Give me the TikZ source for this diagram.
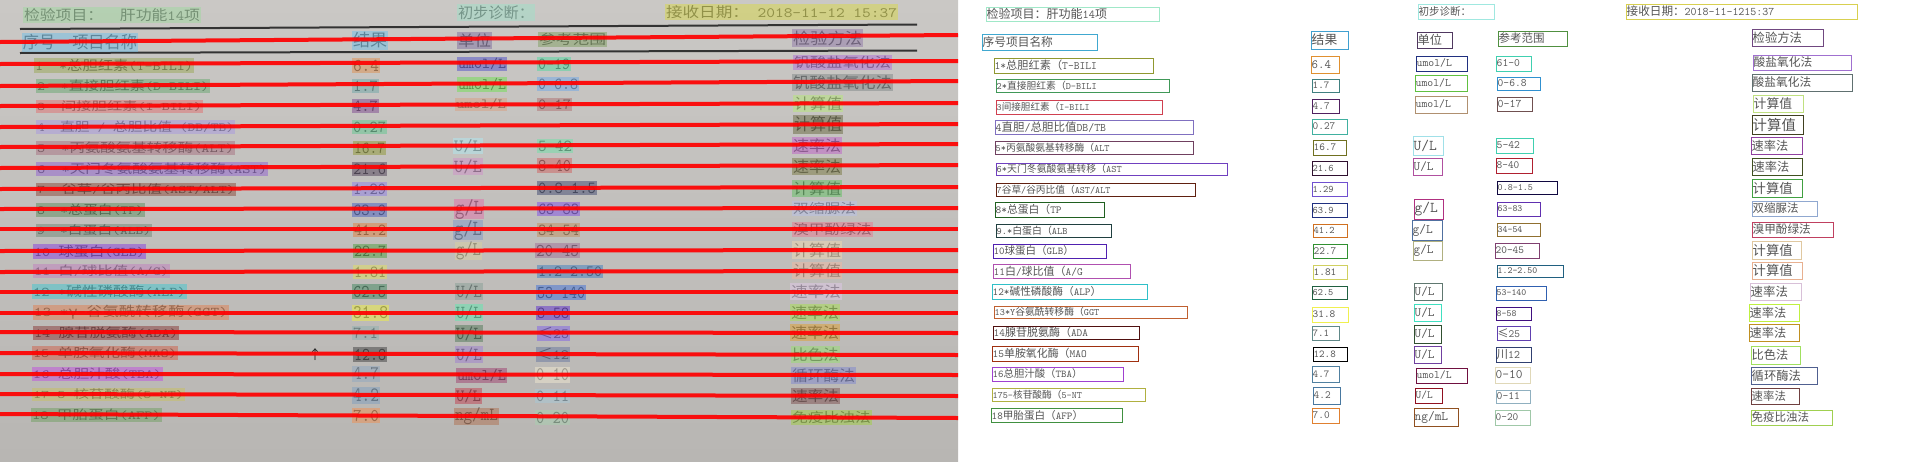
\documentclass[tikz,border=0pt]{standalone}
\usepackage{fontspec}
\usepackage{graphicx}
\setmainfont{Noto Sans CJK SC}
\newcommand\ltn[1]{{\ttfamily #1}}
\newlength\hlw
\newlength\hlh
\definecolor{ltxt}{HTML}{4A4A4A}
\definecolor{rtxt}{HTML}{555555}
\definecolor{bgtop}{HTML}{CAC8C5}
\definecolor{bgbot}{HTML}{B8B6B3}
\tikzset{
  lt/.style={inner sep=0pt, text=ltxt},
  rt/.style={inner sep=0pt, text=rtxt, anchor=west},
  redline/.style={draw=red, line width=4pt, opacity=.92},
  blackrule/.style={draw=black!80, line width=2pt},
  hlfill/.style={opacity=.5},
  bxline/.style={line width=1pt},
}
% left panel highlight: name, x1, y1, x2, y2, colour, text
\newcommand\Lhl[7]{%
  \definecolor{hlc}{HTML}{#6}%
  \setlength\hlw{\dimexpr #4pt-#2pt-2pt\relax}%
  \setlength\hlh{\dimexpr (#5pt-#3pt)*3/4\relax}%
  \node[lt] (#1) at ({(#2+#4)/2},{(#3+#5)/2}) {\resizebox{\hlw}{\hlh}{#7}};
  \fill[hlc, hlfill] (#2,#3) rectangle (#4,#5);
}
% right panel box: name, x1, y1, x2, y2, colour, font size, text
\newcommand\Rbx[8]{%
  \definecolor{bxc}{HTML}{#6}%
  \draw[bxc, bxline] (#2,#3) rectangle (#4,#5);
  \node[rt, font=\fontsize{#7pt}{#7pt}\selectfont] (#1) at (#2+0.5,{(#3+#5)/2}) {#8};
}
\begin{document}
\begin{tikzpicture}[x=1pt,y=-1pt]
\useasboundingbox (0,0) rectangle (1920,461);
\fill[white] (0,0) rectangle (1920,461);
\shade[top color=bgtop, bottom color=bgbot] (0,0) rectangle (958,461);
% ---------- left panel ----------
\draw[blackrule] (20,29) -- (917,24.5);
\draw[blackrule] (20,53) -- (917,50.5);
\Lhl{lT1}{23}{7}{201}{23}{A0D8A0}{检验项目：\ltn{~~}肝功能\ltn{14}项}
\Lhl{lT2}{457}{4}{535}{21}{A0E0C8}{初步诊断：}
\Lhl{lT3}{665}{4}{898}{20}{D8D848}{接收日期：\ltn{~2018-11-12~15:37}}
\Lhl{lH1}{22}{33}{138}{52}{70C0E8}{序号\ltn{~~}项目名称}
\Lhl{lH2}{352}{31}{388}{50}{70C0E8}{结果}
\Lhl{lH3}{457}{32}{492}{49}{8070A0}{单位}
\Lhl{lH4}{538}{32}{607}{47}{80A060}{参考范围}
\Lhl{lH5}{792}{29}{863}{47}{9078A8}{检验方法}
% row 1
\Lhl{lN1}{34}{58}{194}{73}{9AA855}{\ltn{1~~*}总胆红素\ltn{(T-BILI)}}
\Lhl{lR1}{352}{58}{380}{73}{E09050}{\ltn{6.4}}
\Lhl{lU1}{457}{57}{507}{71}{5050C8}{\ltn{umol/L}}
\Lhl{lF1}{537}{57}{571}{71}{50D8A0}{\ltn{0-19}}
\Lhl{lM1}{793}{55}{892}{70}{B070D8}{钒酸盐氧化法}
% row 2
\Lhl{lN2}{36}{79}{210}{93}{68A870}{\ltn{2~~*}直接胆红素\ltn{(D-BILI)}}
\Lhl{lR2}{352}{79}{379}{93}{70A8A8}{\ltn{1.7}}
\Lhl{lU2}{457}{77}{507}{92}{70E050}{\ltn{umol/L}}
\Lhl{lF2}{537}{77}{579}{91}{70A8E8}{\ltn{0-6.8}}
\Lhl{lM2}{792}{74}{893}{91}{808888}{钒酸盐氧化法}
% row 3
\Lhl{lN3}{36}{100}{203}{113}{E07070}{\ltn{3~~}间接胆红素\ltn{(I-BILI)}}
\Lhl{lR3}{352}{99}{379}{113}{804890}{\ltn{4.7}}
\Lhl{lU3}{455}{98}{507}{111}{D8A080}{\ltn{umol/L}}
\Lhl{lF3}{537}{98}{572}{111}{B07070}{\ltn{0-17}}
\Lhl{lM3}{793}{95}{843}{112}{B8E878}{计算值}
% row 4
\Lhl{lN4}{36}{120}{235}{134}{A898E0}{\ltn{4~~}直胆\ltn{~/~}总胆比值\ltn{~(DB/TB)}}
\Lhl{lR4}{352}{120}{387}{134}{60C890}{\ltn{0.27}}
\Lhl{lM4}{793}{115}{843}{134}{686840}{计算值}
% row 5
\Lhl{lN5}{36}{141}{235}{155}{A87080}{\ltn{5~~*}丙氨酸氨基转移酶\ltn{(ALT)}}
\Lhl{lR5}{353}{141}{386}{155}{909830}{\ltn{16.7}}
\Lhl{lU5}{453}{138}{483}{154}{B0E8F0}{\ltn{U/L}}
\Lhl{lF5}{537}{139}{573}{153}{70E0A8}{\ltn{5-42}}
\Lhl{lM5}{792}{137}{842}{154}{C060C8}{速率法}
% row 6
\Lhl{lN6}{36}{162}{268}{176}{9060D0}{\ltn{6~~*}天门冬氨酸氨基转移酶\ltn{(AST)}}
\Lhl{lR6}{352}{162}{387}{176}{504058}{\ltn{21.6}}
\Lhl{lU6}{453}{158}{483}{175}{D090C8}{\ltn{U/L}}
\Lhl{lF6}{537}{158}{572}{173}{D06060}{\ltn{8-40}}
\Lhl{lM6}{792}{158}{842}{175}{787840}{速率法}
% row 7
\Lhl{lN7}{36}{183}{236}{196}{8B4A3A}{\ltn{7~~}谷草\ltn{/}谷丙比值\ltn{(AST/ALT)}}
\Lhl{lR7}{352}{182}{387}{196}{9080E8}{\ltn{1.29}}
\Lhl{lF7}{537}{181}{597}{195}{404870}{\ltn{0.8-1.5}}
\Lhl{lM7}{792}{180}{842}{197}{60C060}{计算值}
% row 8
\Lhl{lN8}{36}{203}{145}{217}{5E8E5E}{\ltn{8~~*}总蛋白\ltn{(TP)}}
\Lhl{lR8}{352}{203}{387}{217}{4860C0}{\ltn{63.9}}
\Lhl{lU8}{454}{199}{484}{219}{E070A8}{\ltn{g/L}}
\Lhl{lF8}{537}{202}{580}{216}{8050E8}{\ltn{63-83}}
\Lhl{lM8}{792}{201}{857}{216}{B8C0E8}{双缩脲法}
% row 9
\Lhl{lN9}{36}{224}{152}{237}{708878}{\ltn{9~~*}白蛋白\ltn{(ALB)}}
\Lhl{lR9}{353}{223}{387}{237}{E08040}{\ltn{41.2}}
\Lhl{lU9}{453}{220}{483}{240}{8098C8}{\ltn{g/L}}
\Lhl{lF9}{537}{223}{580}{237}{C09060}{\ltn{34-54}}
\Lhl{lM9}{792}{222}{873}{237}{E87890}{溴甲酚绿法}
% row 10
\Lhl{lN10}{33}{244}{146}{259}{8A40E0}{\ltn{10~}球蛋白\ltn{(GLB)}}
\Lhl{lR10}{353}{244}{387}{258}{50A040}{\ltn{22.7}}
\Lhl{lU10}{455}{242}{482}{260}{D8D0A0}{\ltn{g/L}}
\Lhl{lF10}{535}{243}{580}{258}{A07098}{\ltn{20-45}}
\Lhl{lM10}{792}{241}{842}{259}{F0D8B0}{计算值}
% row 11
\Lhl{lN11}{33}{264}{170}{278}{C080C0}{\ltn{11~}白\ltn{/}球比值\ltn{(A/G)}}
\Lhl{lR11}{353}{265}{387}{279}{E0E060}{\ltn{1.81}}
\Lhl{lF11}{537}{265}{603}{278}{4080C0}{\ltn{1.2-2.50}}
\Lhl{lM11}{792}{262}{842}{279}{F0B8A0}{计算值}
% row 12
\Lhl{lN12}{32}{284}{187}{299}{40C8D0}{\ltn{12~*}碱性磷酸酶\ltn{(ALP)}}
\Lhl{lR12}{352}{284}{387}{299}{408860}{\ltn{62.5}}
\Lhl{lU12}{455}{283}{483}{300}{88A098}{\ltn{U/L}}
\Lhl{lF12}{536}{285}{586}{300}{4070D8}{\ltn{53-140}}
\Lhl{lM12}{790}{283}{842}{300}{E0C8E8}{速率法}
% row 13
\Lhl{lN13}{33}{305}{229}{320}{E08050}{\ltn{13~*}γ\ltn{-}谷氨酰转移酶\ltn{(GGT)}}
\Lhl{lR13}{352}{305}{389}{321}{F0F040}{\ltn{31.8}}
\Lhl{lU13}{455}{304}{483}{321}{60E8B0}{\ltn{U/L}}
\Lhl{lF13}{536}{306}{570}{320}{6030D0}{\ltn{8-58}}
\Lhl{lM13}{790}{304}{840}{321}{A8E050}{速率法}
% row 14
\Lhl{lN14}{33}{326}{179}{340}{883838}{\ltn{14~}腺苷脱氨酶\ltn{(ADA)}}
\Lhl{lR14}{352}{326}{379}{340}{90B0B0}{\ltn{7.1}}
\Lhl{lU14}{455}{325}{483}{342}{507858}{\ltn{U/L}}
\Lhl{lF14}{537}{326}{570}{341}{8060E8}{≤\ltn{25}}
\Lhl{lM14}{790}{324}{840}{341}{E0A030}{速率法}
% row 15
\Lhl{lN15}{32}{346}{178}{360}{D06048}{\ltn{15~}单胺氧化酶\ltn{(MAO)}}
\Lhl{lR15}{353}{347}{387}{362}{404040}{\ltn{12.8}}
\Lhl{lU15}{455}{346}{483}{363}{A080D0}{\ltn{U/L}}
\Lhl{lF15}{536}{347}{570}{362}{6878A0}{≤\ltn{12}}
\Lhl{lM15}{791}{346}{840}{363}{98E070}{比色法}
\node[inner sep=0pt, text=black!85, font=\fontsize{13pt}{13pt}\selectfont] (arrowup) at (315,355) {↑};
% row 16
\Lhl{lN16}{32}{367}{163}{381}{C050E0}{\ltn{16~}总胆汁酸\ltn{(TBA)}}
\Lhl{lR16}{352}{366}{380}{382}{90A8C0}{\ltn{4.7}}
\Lhl{lU16}{456}{368}{507}{383}{A04070}{\ltn{umol/L}}
\Lhl{lF16}{535}{367}{570}{383}{F0E8D0}{\ltn{0-10}}
\Lhl{lM16}{791}{367}{856}{384}{8088D0}{循环酶法}
% row 17
\Lhl{lN17}{32}{388}{185}{401}{C8C060}{\ltn{17~5-}核苷酸酶\ltn{(5-NT)}}
\Lhl{lR17}{352}{387}{380}{404}{80A0C0}{\ltn{4.2}}
\Lhl{lU17}{455}{388}{482}{404}{C04050}{\ltn{U/L}}
\Lhl{lF17}{535}{389}{570}{403}{A8C8D8}{\ltn{0-11}}
\Lhl{lM17}{791}{388}{840}{404}{805050}{速率法}
% row 18
\Lhl{lN18}{31}{408}{162}{422}{70A060}{\ltn{18~}甲胎蛋白\ltn{(AFP)}}
\Lhl{lR18}{352}{408}{380}{423}{F09050}{\ltn{7.0}}
\Lhl{lU18}{454}{408}{499}{425}{B07050}{\ltn{ng/mL}}
\Lhl{lF18}{535}{410}{570}{425}{A8D0B0}{\ltn{0-20}}
\Lhl{lM18}{791}{410}{872}{425}{A0D040}{免疫比浊法}
% red text lines
\foreach \ya/\yb in {42/35,64/61,86/81,106/103,127/124,147/144,168/165,189/187,209/208,229/229,251/250,272/271,292/292,313/313,332/333,353/355,374/375,394/396,414/418}
  \draw[redline] (0,\ya) -- (958,\yb);
% ---------- right panel ----------
\Rbx{rT1}{986}{7}{1159}{21}{A0E8C8}{12}{检验项目：肝功能\ltn{14}项}
\Rbx{rT2}{1418}{4}{1494}{19}{A0E8E0}{10.5}{初步诊断：}
\Rbx{rT3}{1626}{4}{1857}{19}{D8D050}{11.6}{接收日期：\ltn{2018-11-1215:37}}
\Rbx{rH1}{982}{34}{1097}{50}{40A8D0}{11.7}{序号项目名称}
\Rbx{rH2}{1311}{31}{1348}{49}{40A0D0}{12.8}{结果}
\Rbx{rH3}{1417}{32}{1452}{48}{503860}{12.2}{单位}
\Rbx{rH4}{1498}{31}{1567}{46}{509040}{11.5}{参考范围}
\Rbx{rH5}{1752}{29}{1823}{46}{704880}{12.3}{检验方法}
% row 1
\Rbx{rN1}{994}{58}{1153}{73}{909830}{11.2}{\ltn{1*}总胆红素（\ltn{T-BILI}}
\Rbx{rR1}{1311}{56}{1339}{73}{E09030}{12.5}{\ltn{6.4}}
\Rbx{rU1}{1416}{56}{1467}{71}{203080}{11.4}{\ltn{umol/L}}
\Rbx{rF1}{1496}{56}{1531}{71}{40D0B0}{11.3}{\ltn{61-0}}
\Rbx{rM1}{1753}{55}{1851}{70}{A070D0}{11.7}{酸盐氧化法}
% row 2
\Rbx{rN2}{996}{79}{1169}{92}{409858}{9.8}{\ltn{2*}直接胆红素（\ltn{D-BILI}}
\Rbx{rR2}{1312}{79}{1339}{92}{408080}{10.6}{\ltn{1.7}}
\Rbx{rU2}{1415}{75}{1467}{91}{60C040}{11.4}{\ltn{umol/L}}
\Rbx{rF2}{1497}{77}{1540}{90}{3090D0}{11.2}{\ltn{0-6.8}}
\Rbx{rM2}{1752}{74}{1852}{91}{607070}{11.7}{酸盐氧化法}
% row 3
\Rbx{rN3}{996}{100}{1162}{114}{D04050}{9.6}{\ltn{3}间接胆红素（\ltn{I-BILI}}
\Rbx{rR3}{1312}{99}{1339}{113}{502060}{11}{\ltn{4.7}}
\Rbx{rU3}{1415}{96}{1467}{113}{B09070}{11.4}{\ltn{umol/L}}
\Rbx{rF3}{1497}{97}{1532}{111}{705050}{11.6}{\ltn{0-17}}
\Rbx{rM3}{1753}{95}{1803}{112}{C0E080}{12.8}{计算值}
% row 4
\Rbx{rN4}{995}{120}{1193}{134}{8070C0}{11.5}{\ltn{4}直胆\ltn{/}总胆比值\ltn{DB/TB}}
\Rbx{rR4}{1312}{119}{1347}{134}{40B0A0}{11}{\ltn{0.27}}
\Rbx{rM4}{1752}{115}{1803}{134}{404020}{14.4}{计算值}
% row 5
\Rbx{rN5}{995}{141}{1193}{154}{704060}{9.8}{\ltn{5*}丙氨酸氨基转移酶（\ltn{ALT}}
\Rbx{rR5}{1313}{140}{1346}{155}{707020}{10.8}{\ltn{16.7}}
\Rbx{rU5}{1413}{136}{1443}{155}{A0E0E8}{15}{\ltn{U/L}}
\Rbx{rF5}{1496}{138}{1533}{153}{40D0B0}{11.3}{\ltn{5-42}}
\Rbx{rM5}{1751}{137}{1802}{154}{9040A0}{12.2}{速率法}
% row 6
\Rbx{rN6}{996}{163}{1227}{175}{7040C0}{9.9}{\ltn{6*}天门冬氨酸氨基转移（\ltn{AST}}
\Rbx{rR6}{1312}{161}{1347}{175}{301030}{10}{\ltn{21.6}}
\Rbx{rU6}{1413}{158}{1442}{175}{B050A0}{12.7}{\ltn{U/L}}
\Rbx{rF6}{1496}{158}{1532}{173}{B02030}{11}{\ltn{8-40}}
\Rbx{rM6}{1752}{158}{1802}{175}{405020}{12.2}{速率法}
% row 7
\Rbx{rN7}{996}{183}{1195}{196}{602010}{9.7}{\ltn{7}谷草\ltn{/}谷丙比值（\ltn{AST/ALT}}
\Rbx{rR7}{1312}{182}{1347}{196}{7050D0}{10}{\ltn{1.29}}
\Rbx{rF7}{1497}{181}{1557}{194}{100840}{9.6}{\ltn{0.8-1.5}}
\Rbx{rM7}{1752}{179}{1802}{197}{40A040}{13.3}{计算值}
% row 8
\Rbx{rN8}{995}{202}{1104}{217}{206020}{10.8}{\ltn{8*}总蛋白（\ltn{TP}}
\Rbx{rR8}{1312}{203}{1347}{217}{203080}{10}{\ltn{63.9}}
\Rbx{rU8}{1414}{199}{1443}{219}{B03080}{15}{\ltn{g/L}}
\Rbx{rF8}{1497}{202}{1540}{216}{6030B0}{9.4}{\ltn{63-83}}
\Rbx{rM8}{1752}{201}{1817}{216}{90A8D0}{11.5}{双缩脲法}
% row 9
\Rbx{rN9}{996}{224}{1111}{237}{204040}{9.9}{\ltn{9.*}白蛋白（\ltn{ALB}}
\Rbx{rR9}{1313}{224}{1347}{237}{D07020}{10}{\ltn{41.2}}
\Rbx{rU9}{1412}{220}{1442}{240}{5070A0}{13}{\ltn{g/L}}
\Rbx{rF9}{1497}{223}{1540}{236}{907030}{9.4}{\ltn{34-54}}
\Rbx{rM9}{1752}{222}{1833}{237}{C04060}{11.6}{溴甲酚绿法}
% row 10
\Rbx{rN10}{993}{244}{1106}{258}{5020B0}{10.5}{\ltn{10}球蛋白（\ltn{GLB}）}
\Rbx{rR10}{1313}{244}{1347}{258}{309030}{11}{\ltn{22.7}}
\Rbx{rU10}{1413}{241}{1442}{260}{B0B080}{12.7}{\ltn{g/L}}
\Rbx{rF10}{1495}{243}{1539}{258}{804070}{10.8}{\ltn{20-45}}
\Rbx{rM10}{1752}{241}{1801}{259}{E0C8A0}{13.3}{计算值}
% row 11
\Rbx{rN11}{993}{264}{1130}{278}{B050B0}{11}{\ltn{11}白\ltn{/}球比值（\ltn{A/G}}
\Rbx{rR11}{1313}{265}{1347}{279}{D0D060}{10.8}{\ltn{1.81}}
\Rbx{rF11}{1497}{265}{1563}{277}{206080}{9.4}{\ltn{1.2-2.50}}
\Rbx{rM11}{1752}{262}{1802}{279}{E8B090}{13.3}{计算值}
% row 12
\Rbx{rN12}{992}{284}{1147}{299}{30C0C8}{10.7}{\ltn{12*}碱性磷酸酶（\ltn{ALP}）}
\Rbx{rR12}{1312}{286}{1347}{299}{206040}{9.8}{\ltn{62.5}}
\Rbx{rU12}{1414}{283}{1442}{300}{607870}{12.7}{\ltn{U/L}}
\Rbx{rF12}{1496}{286}{1546}{300}{3060B0}{9.4}{\ltn{53-140}}
\Rbx{rM12}{1750}{283}{1801}{300}{D8C0D8}{12.4}{速率法}
% row 13
\Rbx{rN13}{994}{306}{1187}{318}{C06030}{9.8}{\ltn{13*Y}谷氨酰转移酶（\ltn{GGT}}
\Rbx{rR13}{1312}{307}{1348}{322}{F0F050}{10.8}{\ltn{31.8}}
\Rbx{rU13}{1414}{304}{1441}{321}{40E0C0}{12.7}{\ltn{U/L}}
\Rbx{rF13}{1496}{307}{1531}{320}{401080}{9.4}{\ltn{8-58}}
\Rbx{rM13}{1749}{304}{1799}{321}{C0F040}{12.2}{速率法}
% row 14
\Rbx{rN14}{993}{326}{1139}{339}{501010}{11}{\ltn{14}腺苷脱氨酶（\ltn{ADA}}
\Rbx{rR14}{1312}{326}{1339}{340}{608888}{10.5}{\ltn{7.1}}
\Rbx{rU14}{1414}{325}{1441}{343}{305030}{12.7}{\ltn{U/L}}
\Rbx{rF14}{1497}{326}{1530}{340}{6040B0}{11}{≤\ltn{25}}
\Rbx{rM14}{1749}{324}{1799}{341}{C09020}{12.2}{速率法}
% row 15
\Rbx{rN15}{992}{346}{1138}{361}{A03010}{10.9}{\ltn{15}单胺氧化酶（\ltn{MAO}}
\Rbx{rR15}{1313}{347}{1347}{361}{000000}{10.5}{\ltn{12.8}}
\Rbx{rU15}{1414}{346}{1441}{363}{7040A0}{12.7}{\ltn{U/L}}
\Rbx{rF15}{1496}{347}{1531}{362}{304070}{11.5}{川\ltn{12}}
\Rbx{rM15}{1751}{346}{1800}{364}{A0E060}{12.2}{比色法}
% row 16
\Rbx{rN16}{992}{367}{1123}{381}{A040D0}{10.4}{\ltn{16}总胆汁酸（\ltn{TBA}）}
\Rbx{rR16}{1312}{366}{1339}{382}{5080A0}{10.6}{\ltn{4.7}}
\Rbx{rU16}{1416}{368}{1467}{383}{701040}{11.3}{\ltn{umol/L}}
\Rbx{rF16}{1495}{367}{1530}{383}{E0D8B8}{13}{\ltn{0-10}}
\Rbx{rM16}{1751}{367}{1817}{384}{506090}{12.3}{循环酶法}
% row 17
\Rbx{rN17}{992}{388}{1145}{401}{B0B040}{9.7}{\ltn{175-}核苷酸酶（\ltn{5-NT}}
\Rbx{rR17}{1313}{387}{1340}{404}{4878A0}{11}{\ltn{4.2}}
\Rbx{rU17}{1415}{388}{1442}{403}{901020}{11}{\ltn{U/L}}
\Rbx{rF17}{1496}{390}{1530}{403}{90B0C0}{11.3}{\ltn{0-11}}
\Rbx{rM17}{1751}{388}{1799}{404}{704040}{11.4}{速率法}
% row 18
\Rbx{rN18}{991}{408}{1122}{422}{409040}{10.6}{\ltn{18}甲胎蛋白（\ltn{AFP}）}
\Rbx{rR18}{1312}{408}{1339}{423}{E08030}{11}{\ltn{7.0}}
\Rbx{rU18}{1414}{408}{1458}{426}{905020}{13}{\ltn{ng/mL}}
\Rbx{rF18}{1495}{410}{1530}{425}{A0C8A8}{11}{\ltn{0-20}}
\Rbx{rM18}{1751}{410}{1832}{425}{A0D050}{11.5}{免疫比浊法}
\end{tikzpicture}
\end{document}
